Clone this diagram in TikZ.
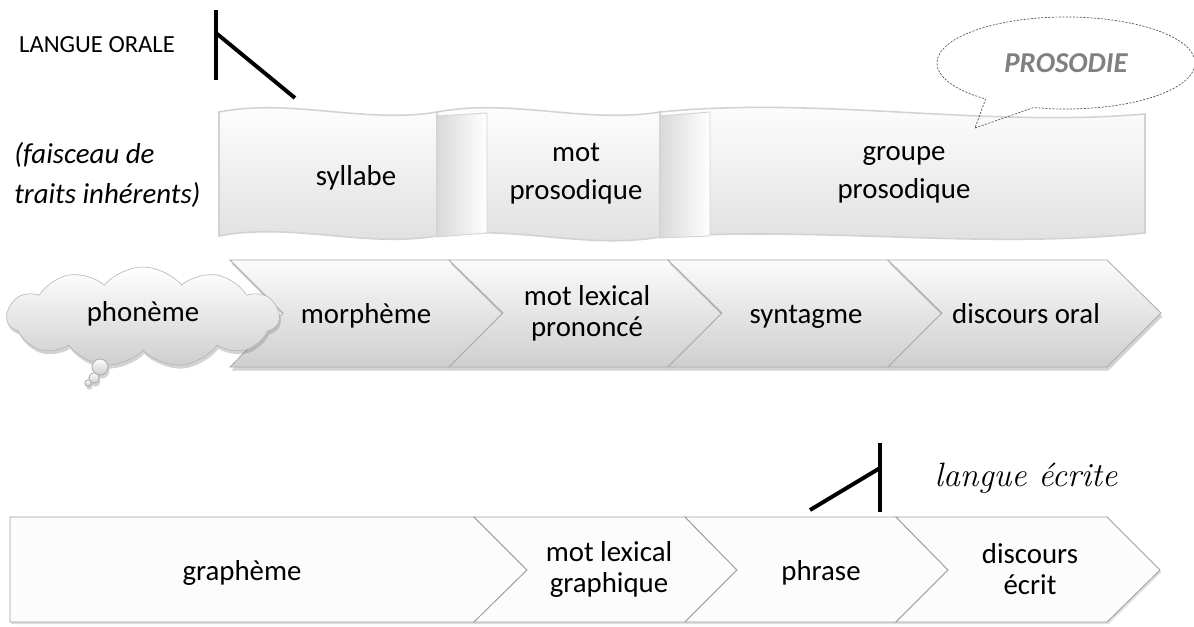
\documentclass[tikz,border=0pt]{standalone}
\usepackage{fontspec}
\newfontfamily\calibri{Carlito}
\usepackage{tikz}
\usetikzlibrary{shapes,shapes.callouts,shapes.symbols,shadows,positioning}

\tikzset{
    lbl/.style={font=\calibri\fontsize{20.5}{22}\selectfont, align=center, inner sep=0pt},
    lblone/.style={lbl, text height=11pt, text depth=4pt},
    lblwide/.style={lbl, font=\calibri\fontsize{20.5}{27}\selectfont},
    chev/.style={draw=gray!65, line width=0.6pt, top color=gray!3, bottom color=gray!38,
        drop shadow={opacity=0.35, shadow xshift=1pt, shadow yshift=-2.5pt}},
    flatchev/.style={draw=gray!75, line width=0.6pt, fill=gray!2,
        drop shadow={opacity=0.25, shadow xshift=1pt, shadow yshift=-1.5pt}},
    banner/.style={draw=gray!35, line width=1.1pt, top color=white, middle color=white, bottom color=gray!25},
    fold/.style={draw=gray!35, line width=0.6pt, left color=gray!30, right color=white},
    bar/.style={line width=2.8pt, black},
}

\begin{document}
\begin{tikzpicture}[x=0.025cm, y=-0.025cm]
    \useasboundingbox (0,0) rectangle (1194,626);

    % langue orale
    \node[lbl, font=\calibri\fontsize{17.5}{20}\selectfont] (orale) at (97,45) {LANGUE ORALE};
    \draw[bar] (216,10) -- (216,80);
    \draw[bar] (216,33) -- (295,98);

    \node[lbl, anchor=west, align=left, font=\calibri\itshape\fontsize{20.5}{29}\selectfont]
        (faisceau) at (14,175) {(faisceau de\\traits inh\'erents)};

    % bandeaux prosodiques
    \draw[banner] (219,112) .. controls (292,98) and (364,124) .. (437,112)
        -- (437,236) .. controls (364,248) and (292,222) .. (219,236) -- cycle;
    \draw[banner] (437,112) .. controls (511,98) and (585,124) .. (660,112)
        -- (660,237) .. controls (585,250) and (511,224) .. (437,236) -- cycle;
    \draw[banner] (660,112) .. controls (822,96) and (983,128) .. (1145,114)
        -- (1145,233) .. controls (983,250) and (822,226) .. (660,237) -- cycle;
    \draw[fold] (437,116) -- (487,113) -- (487,233) -- (437,237) -- cycle;
    \draw[fold] (660,116) -- (710,112) -- (710,236) -- (660,238) -- cycle;

    \node[lblone] (syllabe) at (356,181) {syllabe};
    \node[lblwide] (motpros) at (576,174) {mot\\prosodique};
    \node[lblwide] (groupe) at (904,175) {groupe\\prosodique};

    % bulle prosodie
    \coordinate (ptip) at (975,128);
    \node[ellipse callout, draw=gray!70!black, line width=0.5pt, dash pattern=on 1.5pt off 1pt,
        minimum width=6.45cm, minimum height=2.3cm, callout absolute pointer={(ptip)},
        callout pointer arc=24, text=gray, font=\calibri\bfseries\itshape\fontsize{20.5}{22}\selectfont]
        (prosodie) at (1066,63) {PROSODIE};

    % chaine orale
    \draw[chev] (230,260) -- (449,260) -- (503,313) -- (449,367) -- (230,367) -- (283,313) -- cycle;
    \draw[chev] (449,260) -- (668,260) -- (722,313) -- (668,367) -- (449,367) -- (503,313) -- cycle;
    \draw[chev] (668,260) -- (888,260) -- (942,313) -- (888,367) -- (668,367) -- (722,313) -- cycle;
    \draw[chev] (888,260) -- (1107,260) -- (1161,313) -- (1107,367) -- (888,367) -- (942,313) -- cycle;

    \node[cloud, cloud puffs=11, cloud puff arc=100, cloud ignores aspect, minimum width=6.8cm, minimum height=2.5cm,
        draw=gray!60, top color=white, bottom color=gray!38,
        drop shadow={opacity=0.35, shadow xshift=1pt, shadow yshift=-2.5pt}, lblone]
        (phoneme) at (143,317) {phon\`eme};
    \draw[chev] (100,367) circle[radius=0.2cm];
    \draw[chev] (94,378) circle[radius=0.13cm];
    \draw[chev] (88,383) circle[radius=0.08cm];

    \node[lblone] (morpheme) at (366,319) {morph\`eme};
    \node[lbl] (motlex) at (587,313) {mot lexical\\prononc\'e};
    \node[lblone] (syntagme) at (806,319) {syntagme};
    \node[lblone] (discoral) at (1026,319) {discours oral};

    % langue ecrite
    \node[inner sep=0pt, font=\itshape\fontsize{24}{24}\selectfont] (ecrite) at (1026,478) {langue \'ecrite};
    \draw[bar] (880,443) -- (880,512);
    \draw[bar] (810,510) -- (880,468);

    \draw[flatchev] (10,517) -- (474,517) -- (527,570) -- (474,622) -- (10,622) -- cycle;
    \draw[flatchev] (474,517) -- (685,517) -- (737,570) -- (685,622) -- (474,622) -- (527,570) -- cycle;
    \draw[flatchev] (685,517) -- (896,517) -- (948,570) -- (896,622) -- (685,622) -- (737,570) -- cycle;
    \draw[flatchev] (896,517) -- (1107,517) -- (1160,570) -- (1107,622) -- (896,622) -- (948,570) -- cycle;

    \node[lblone] (grapheme) at (242,576) {graph\`eme};
    \node[lbl] (motgraph) at (609,569) {mot lexical\\graphique};
    \node[lblone] (phrase) at (821,576) {phrase};
    \node[lbl] (discecrit) at (1030,569) {discours\\\'ecrit};
\end{tikzpicture}
\end{document}
